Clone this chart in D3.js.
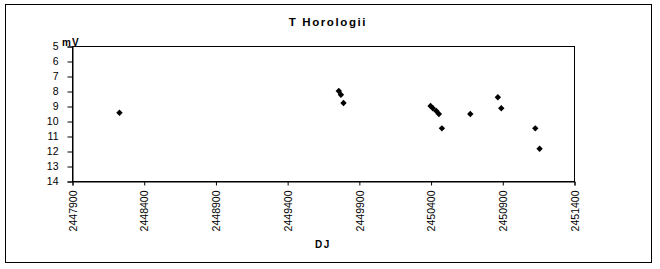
<!DOCTYPE html>
<html>
<head>
<meta charset="utf-8">
<script src="https://cdn.jsdelivr.net/npm/d3@7"></script>
<style>
  body { margin: 0; background: #fff; }
  svg text { font-family: "Liberation Sans", Arial, sans-serif; fill: #000; }
</style>
</head>
<body>
<svg id="chart" width="660" height="269"></svg>
<script>
// julian dates and magnitudes
var jd = [2448231, 2449760, 2449775, 2449793, 2450400, 2450416, 2450440, 2450458,
          2450479, 2450677, 2450869, 2450893, 2451130, 2451160];
var mag = [9.45, 8.0, 8.25, 8.8, 9.0, 9.15, 9.33, 9.53, 10.49, 9.53, 8.42, 9.15, 10.49, 11.85];
var xTicks = [2447900, 2448400, 2448900, 2449400, 2449900, 2450400, 2450900, 2451400];
var yTicks = [5, 6, 7, 8, 9, 10, 11, 12, 13, 14];

var svg = d3.select('#chart');
var plotLeft = 72, plotRight = 574, plotTop = 46, plotBottom = 181;

// outer frame
svg.append('rect')
    .attr('x', 5.5).attr('y', 4.5)
    .attr('width', 646).attr('height', 258)
    .attr('fill', 'none').attr('stroke', '#000').attr('stroke-width', 1);

var x = d3.scaleLinear().domain([2447900, 2451400]).range([plotLeft, plotRight]);
var y = d3.scaleLinear().domain([5, 14]).range([plotTop, plotBottom]);

// plot area
svg.append('rect')
    .attr('x', plotLeft + 0.5).attr('y', plotTop + 0.5)
    .attr('width', plotRight - plotLeft).attr('height', plotBottom - plotTop)
    .attr('fill', 'none').attr('stroke', '#000').attr('stroke-width', 1);

var yAxis = svg.append('g')
    .attr('transform', 'translate(' + (plotLeft + 0.5) + ',0.5)')
    .call(d3.axisLeft(y).tickValues(yTicks).tickSize(5).tickPadding(9).tickFormat(d3.format('d')));
yAxis.select('.domain').attr('stroke', '#000');
yAxis.selectAll('.tick line').attr('stroke', '#000');
yAxis.selectAll('text').attr('font-size', '10.5px')
    .attr('font-family', '"Liberation Sans", Arial, sans-serif');

var xAxis = svg.append('g')
    .attr('transform', 'translate(0.5,' + (plotBottom + 0.5) + ')')
    .call(d3.axisBottom(x).tickValues(xTicks).tickSize(4).tickFormat(d3.format('d')));
xAxis.select('.domain').attr('stroke', '#000');
xAxis.selectAll('.tick line').attr('stroke', '#000');
xAxis.selectAll('text')
    .attr('font-size', '10.5px')
    .attr('font-family', '"Liberation Sans", Arial, sans-serif')
    .attr('transform', 'rotate(-90)')
    .attr('text-anchor', 'end')
    .attr('x', -9).attr('y', 0).attr('dy', '0.35em');

// diamond markers
var diamond = d3.symbol().type(d3.symbolDiamond2).size(26);
svg.append('g').selectAll('path')
    .data(jd)
    .enter().append('path')
    .attr('d', diamond)
    .attr('transform', function(d, i) { return 'translate(' + x(d) + ',' + y(mag[i]) + ')'; })
    .attr('fill', '#000');

svg.append('text')
    .attr('x', 328).attr('y', 26)
    .attr('text-anchor', 'middle')
    .attr('font-size', '11.5px').attr('font-weight', 'bold')
    .attr('letter-spacing', '1.6px')
    .text('T Horologii');

svg.append('text')
    .attr('x', 62).attr('y', 46)
    .attr('font-size', '10px').attr('font-weight', 'bold')
    .attr('letter-spacing', '1px')
    .text('mV');

svg.append('text')
    .attr('x', (plotLeft + plotRight) / 2).attr('y', 248)
    .attr('text-anchor', 'middle')
    .attr('font-size', '10px').attr('font-weight', 'bold')
    .attr('letter-spacing', '1.5px')
    .text('DJ');
</script>
</body>
</html>
